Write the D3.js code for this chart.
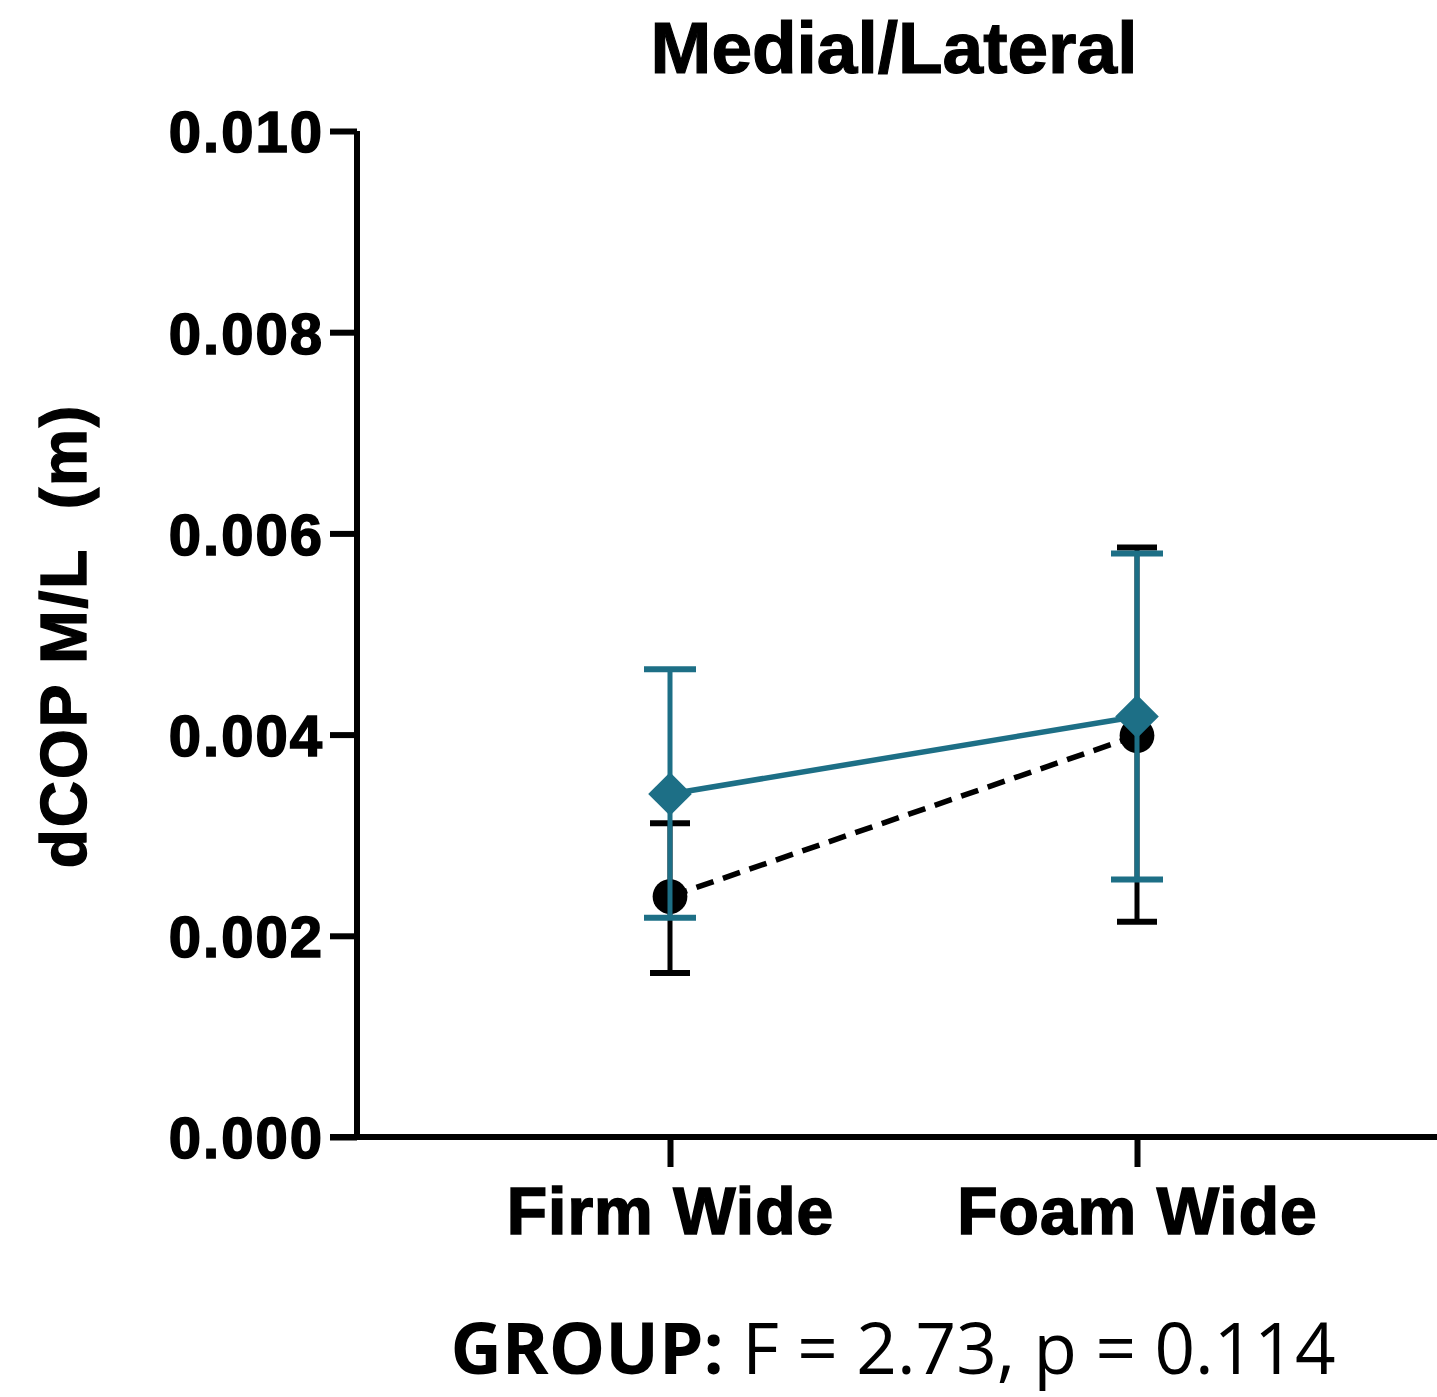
<!DOCTYPE html>
<html>
<head>
<meta charset="utf-8">
<script src="https://cdn.jsdelivr.net/npm/d3@7"></script>
<style>
  body { margin: 0; background: #fff; }
</style>
</head>
<body>
<div class="canvas"></div>
<script>
// data
const categories = ['Firm Wide', 'Foam Wide'];
const blackMean  = [0.00239, 0.00399];
const blackUpper = [0.00312, 0.00586];
const blackLower = [0.00163, 0.00214];
const tealMean   = [0.00341, 0.00418];
const tealUpper  = [0.00465, 0.00580];
const tealLower  = [0.00218, 0.00256];
const yTicks = [0, 0.002, 0.004, 0.006, 0.008, 0.010];

const teal = '#1d6f86';
const W = 1437, H = 1397;
const boldFont = 'Liberation Sans, Arial, sans-serif';

const svg = d3.select('.canvas')
    .append('svg')
    .attr('width', W)
    .attr('height', H);

const y = d3.scaleLinear()
    .domain([0, 0.010])
    .range([1137, 131]);

const x = d3.scalePoint()
    .domain(categories)
    .range([670, 1137]);

// bold labels look heavier in the original, so add a thin outline
const heavy = (sel, w) => sel
    .style('font-family', boldFont)
    .style('font-weight', 'bold')
    .attr('fill', '#000')
    .attr('stroke', '#000')
    .attr('stroke-width', w);

// title
svg.append('text')
    .attr('x', 894).attr('y', 73)
    .attr('text-anchor', 'middle')
    .style('font-size', '73px')
    .call(heavy, 1.2)
    .text('Medial/Lateral');

// y axis
const yAxis = d3.axisLeft(y)
    .tickValues(yTicks)
    .tickSize(27)
    .tickPadding(6)
    .tickFormat(d3.format('.3f'));

const yAxisGroup = svg.append('g')
    .attr('transform', 'translate(357,0)')
    .call(yAxis);
yAxisGroup.select('.domain')
    .attr('d', `M0,${y(0.010)}V${y(0)}`)
    .attr('stroke', '#000').attr('stroke-width', 6);
yAxisGroup.selectAll('.tick line').attr('stroke-width', 6);
yAxisGroup.selectAll('.tick text')
    .attr('dy', '0.36em')
    .style('font-size', '58px')
    .style('letter-spacing', '2px')
    .call(heavy, 1.6);

// x axis
const xAxis = d3.axisBottom(x).tickSize(30).tickPadding(20);
const xAxisGroup = svg.append('g')
    .attr('transform', `translate(0,${y(0)})`)
    .call(xAxis);
xAxisGroup.select('.domain')
    .attr('d', 'M330,0H1437')
    .attr('stroke', '#000').attr('stroke-width', 6);
xAxisGroup.selectAll('.tick line').attr('stroke-width', 6);
xAxisGroup.selectAll('.tick text')
    .style('font-size', '66px')
    .style('letter-spacing', '1px')
    .call(heavy, 1.6);

// y label
svg.append('text')
    .attr('transform', 'translate(86,636) rotate(-90)')
    .attr('text-anchor', 'middle')
    .style('font-size', '64px')
    .style('letter-spacing', '2px')
    .style('white-space', 'pre')
    .call(heavy, 1.4)
    .text('dCOP M/L  (m)');

// draw one series
const drawSeries = (mean, upper, lower, color, capW, dashed, symbol, size, angle) => {
    const g = svg.append('g');
    const rows = categories.map((c, i) => ({ c, m: mean[i], u: upper[i], l: lower[i] }));

    g.selectAll('line.bar').data(rows).enter()
        .append('line')
        .attr('x1', d => x(d.c)).attr('x2', d => x(d.c))
        .attr('y1', d => y(d.u)).attr('y2', d => y(d.l))
        .attr('stroke', color).attr('stroke-width', 5);

    ['u', 'l'].forEach(k => {
        g.selectAll('line.cap' + k).data(rows).enter()
            .append('line')
            .attr('x1', d => x(d.c) - capW / 2).attr('x2', d => x(d.c) + capW / 2)
            .attr('y1', d => y(d[k])).attr('y2', d => y(d[k]))
            .attr('stroke', color).attr('stroke-width', 6);
    });

    g.append('path')
        .datum(rows)
        .attr('fill', 'none')
        .attr('stroke', color)
        .attr('stroke-width', 5.5)
        .attr('stroke-dasharray', dashed ? '18,10' : null)
        .attr('d', d3.line().x(d => x(d.c)).y(d => y(d.m)));

    g.selectAll('path.pt').data(rows).enter()
        .append('path')
        .attr('transform', d => `translate(${x(d.c)},${y(d.m)}) rotate(${angle})`)
        .attr('d', d3.symbol().type(symbol).size(size))
        .attr('fill', color);
};

drawSeries(blackMean, blackUpper, blackLower, '#000', 40, true, d3.symbolCircle, 950, 0);
drawSeries(tealMean, tealUpper, tealLower, teal, 52, false, d3.symbolSquare, 950, 45);

// bottom stats text
const stats = svg.append('text')
    .attr('x', 893).attr('y', 1374)
    .attr('text-anchor', 'middle')
    .style('font-family', 'Open Sans, sans-serif')
    .style('font-size', '71px');
stats.append('tspan').style('font-weight', 'bold').text('GROUP:');
stats.append('tspan').text(' F = 2.73, p = 0.114');
</script>
</body>
</html>
